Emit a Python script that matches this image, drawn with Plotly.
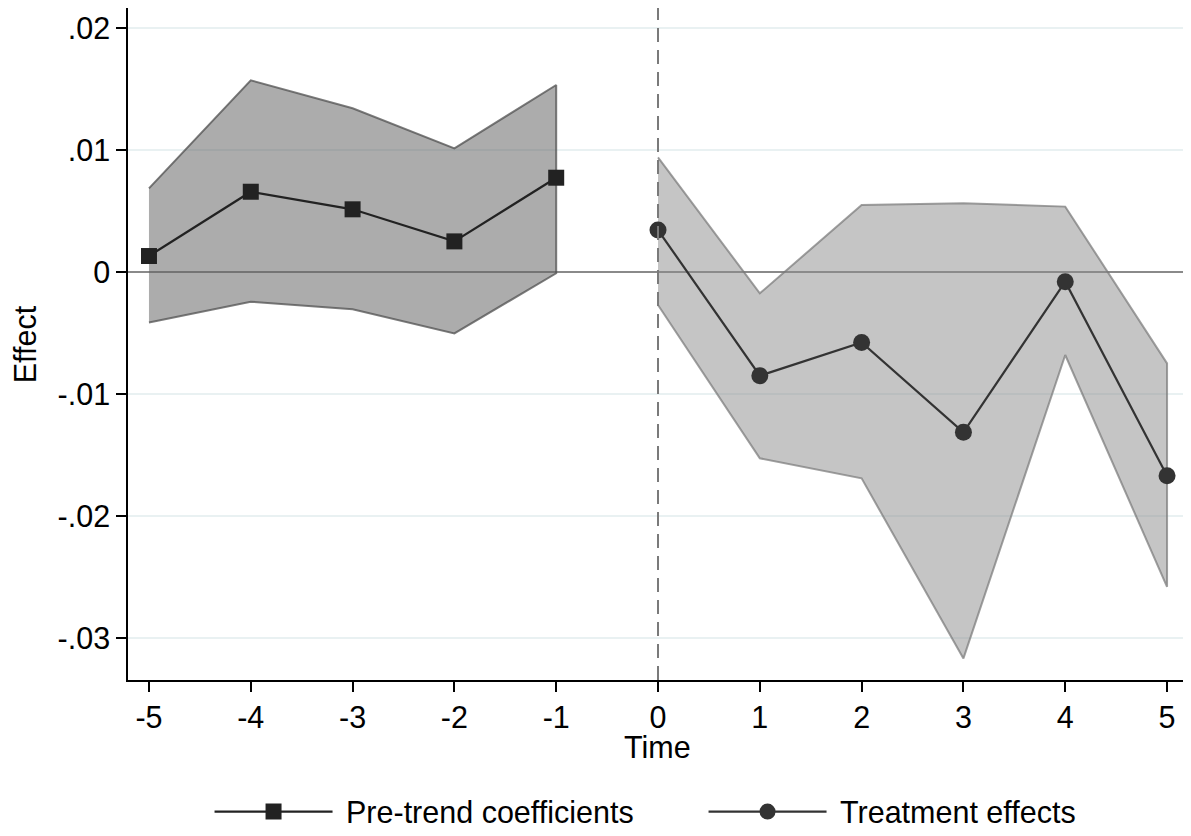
import plotly.graph_objects as go

# Data
pre_time = [-5, -4, -3, -2, -1]
pre_coef = [0.00131, 0.00658, 0.00514, 0.00251, 0.00773]
pre_upper = [0.00686, 0.01571, 0.01342, 0.01014, 0.01533]
pre_lower = [-0.00413, -0.00243, -0.00306, -0.00503, -0.0001]

post_time = [0, 1, 2, 3, 4, 5]
post_coef = [0.00344, -0.0085, -0.00577, -0.01314, -0.00079, -0.0167]
post_upper = [0.0094, -0.00175, 0.00549, 0.00563, 0.00536, -0.00749]
post_lower = [-0.0027, -0.01527, -0.01691, -0.03167, -0.0068, -0.0258]

x_ticks = [-5, -4, -3, -2, -1, 0, 1, 2, 3, 4, 5]
x_ticklabels = ["-5", "-4", "-3", "-2", "-1", "0", "1", "2", "3", "4", "5"]
y_ticks = [0.02, 0.01, 0, -0.01, -0.02, -0.03]
y_ticklabels = [".02", ".01", "0", "-.01", "-.02", "-.03"]

X_RANGE = [-5.206, 5.196]
Y_RANGE = [-0.03344, 0.02164]

FONT = "Liberation Sans, Arial, Helvetica, sans-serif"
FS = 30.5

fig = go.Figure()

# zero reference line (under the bands)
fig.add_trace(go.Scatter(
    x=X_RANGE, y=[0, 0], mode="lines",
    line=dict(color="#8a8a8a", width=2.2),
    showlegend=False, hoverinfo="skip"))

# Pre-trend CI band
fig.add_trace(go.Scatter(
    x=pre_time + pre_time[::-1],
    y=pre_upper + pre_lower[::-1],
    fill="toself", mode="lines",
    fillcolor="rgba(95,95,95,0.52)",
    line=dict(color="rgba(80,80,80,0.75)", width=2),
    showlegend=False, hoverinfo="skip"))

# Post CI band
fig.add_trace(go.Scatter(
    x=post_time + post_time[::-1],
    y=post_upper + post_lower[::-1],
    fill="toself", mode="lines",
    fillcolor="rgba(140,140,140,0.5)",
    line=dict(color="rgba(120,120,120,0.7)", width=2),
    showlegend=False, hoverinfo="skip"))

fig.add_trace(go.Scatter(
    x=pre_time, y=pre_coef, mode="lines+markers",
    name="\u00a0Pre-trend coefficients",
    line=dict(color="#222222", width=2.2),
    marker=dict(symbol="square", size=16, color="#222222")))

fig.add_trace(go.Scatter(
    x=post_time, y=post_coef, mode="lines+markers",
    name="\u00a0Treatment effects",
    line=dict(color="#333333", width=2.2),
    marker=dict(symbol="circle", size=17, color="#333333")))

# vertical dashed line at 0
fig.add_shape(type="line", xref="x", x0=0, x1=0, yref="paper", y0=0, y1=1,
              line=dict(color="#7a7a7a", width=2, dash="14px,8px"), layer="above")

# The page body adds an 8px margin; the figure is sized to compensate.
fig.update_layout(
    template="none",
    width=1183, height=828,
    paper_bgcolor="white", plot_bgcolor="white",
    margin=dict(l=120, r=4, t=0, b=156, autoexpand=False),
    font=dict(family=FONT, size=FS, color="black"),
    showlegend=True,
    legend=dict(orientation="h", x=0.077, xanchor="left", y=-0.196, yanchor="middle",
                font=dict(family=FONT, size=FS, color="black"),
                itemwidth=118, entrywidth=361, entrywidthmode="pixels",
                tracegroupgap=0, traceorder="normal",
                bgcolor="rgba(0,0,0,0)"),
    xaxis=dict(range=X_RANGE, tickvals=x_ticks, ticktext=x_ticklabels,
               ticks="outside", ticklen=10, tickwidth=1.5, tickcolor="black",
               showline=True, linecolor="black", linewidth=1.5,
               showgrid=False, zeroline=False,
               tickfont=dict(size=FS)),
    yaxis=dict(range=Y_RANGE, tickvals=y_ticks, ticktext=y_ticklabels,
               ticks="outside", ticklen=10, tickwidth=1.5, tickcolor="black",
               showline=True, linecolor="black", linewidth=1.5,
               showgrid=True, gridcolor="#e9f1f2", gridwidth=2, zeroline=False,
               tickfont=dict(size=FS)),
    annotations=[
        dict(text="Effect", xref="paper", yref="paper",
             x=-0.097, y=0.5, xanchor="center", yanchor="middle",
             textangle=-90, showarrow=False,
             font=dict(family=FONT, size=FS, color="black")),
        dict(text="Time", xref="paper", yref="paper",
             x=0.5, y=-0.1, xanchor="center", yanchor="middle",
             showarrow=False,
             font=dict(family=FONT, size=FS, color="black")),
    ],
)

fig.write_html("out.html")
